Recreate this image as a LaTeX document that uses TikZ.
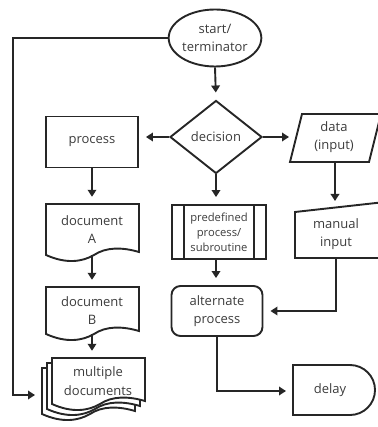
\documentclass[tikz,border=0pt]{standalone}
\usepackage{fontspec}
\setmainfont{Open Sans}
\usetikzlibrary{shapes.geometric,arrows.meta,calc}
\definecolor{lc}{HTML}{262626}
\definecolor{tc}{HTML}{3C3C3C}
\begin{document}
\begin{tikzpicture}[x=1pt,y=-1pt,
  ln/.style={line width=1.9pt, draw=lc, line join=miter},
  arr/.style={ln, -{Triangle[length=7pt,width=8.5pt]}, shorten >=7pt},
  txt/.style={text=tc, font=\fontsize{13}{18.5}\selectfont, align=center, inner sep=0pt},
  smalltxt/.style={text=tc, font=\fontsize{11.2}{15}\selectfont, align=center, inner sep=0pt},
  pics/docshape/.style={code={
    \draw[ln, fill=white] (0,0) -- (0,#1)
      .. controls (20,#1+9) and (36,#1+7) .. (48,#1)
      .. controls (60,#1-8) and (76,#1-8) .. (93,#1-3) -- (93,0) -- cycle;
  }}]
\useasboundingbox (0,0) rectangle (377,427);

% shapes
\node[ellipse, ln, minimum width=86pt, minimum height=57pt, txt] (start) at (215,38) {start/\\terminator};
\node[diamond, ln, minimum width=92pt, minimum height=73pt, txt] (dec) at (216,137) {decision};
\node[rectangle, ln, minimum width=92pt, minimum height=51pt, txt] (proc) at (92,142) {process};

% data (input)
\draw[ln] (290,162) -- (302,114) -- (381,114) -- (369,162) -- cycle;
\node[txt] (data) at (334,137) {data\\(input)};
\coordinate (dataW) at (296,137);
\coordinate (dataS) at (335,162);

% documents
\pic at (46,204) {docshape=51};
\node[txt, minimum width=92pt, minimum height=51pt] (docA) at (92,229.5) {document\\A};
\pic at (46,287) {docshape=47};
\node[txt, minimum width=92pt, minimum height=47pt] (docB) at (92,310.5) {document\\B};

% multiple documents
\pic at (42,368) {docshape=46};
\pic at (47,363) {docshape=46};
\pic at (52,358) {docshape=46};
\node[txt, minimum width=92pt, minimum height=46pt] (multi) at (98,381) {multiple\\documents};
\coordinate (multiW) at (42,395);
\coordinate (loopC) at (13,395);

% predefined process
\node[rectangle, ln, minimum width=94pt, minimum height=54pt, smalltxt] (pre) at (219,232) {predefined\\process/\\subroutine};
\draw[ln] ($(pre.north west)+(13,0)$) -- ($(pre.south west)+(13,0)$);
\draw[ln] ($(pre.north east)+(-13,0)$) -- ($(pre.south east)+(-13,0)$);

% manual input
\draw[ln] (295,212) -- (385,202) -- (385,258) -- (295,258) -- cycle;
\node[txt] (man) at (336,234) {manual\\input};
\coordinate (manN) at (335,208);
\coordinate (manS) at (336,258);

% alternate process
\node[rectangle, ln, rounded corners=9pt, minimum width=91pt, minimum height=50pt, txt] (alt) at (217,311) {alternate\\process};

% delay
\draw[ln] (293,365) -- (350,365) arc[start angle=-90, end angle=90, radius=25] -- (293,415) -- cycle;
\node[txt] (delay) at (330,390) {delay};
\coordinate (delayW) at (293,391);

% connectors
\draw[arr] (start.south) -- (dec.north);
\draw[arr] (start.west) -| (loopC) -- (multiW);
\draw[arr] (dec.west) -- (dec.west -| proc.east);
\draw[arr] (dec.east) -- (dataW);
\draw[arr] (dec.south) -- (dec.south |- pre.north);
\draw[arr] (proc.south) -- (docA.north);
\draw[arr] (docA.south) -- (docB.north);
\draw[arr] (docB.south) -- (docB.south |- multi.north);
\draw[arr] (dataS) -- (manN);
\draw[arr] (pre.south -| dec.south) -- (alt.north -| dec.south);
\draw[arr] (manS) |- (alt.east);
\draw[arr] (alt.south) |- (delayW);
\end{tikzpicture}
\end{document}
